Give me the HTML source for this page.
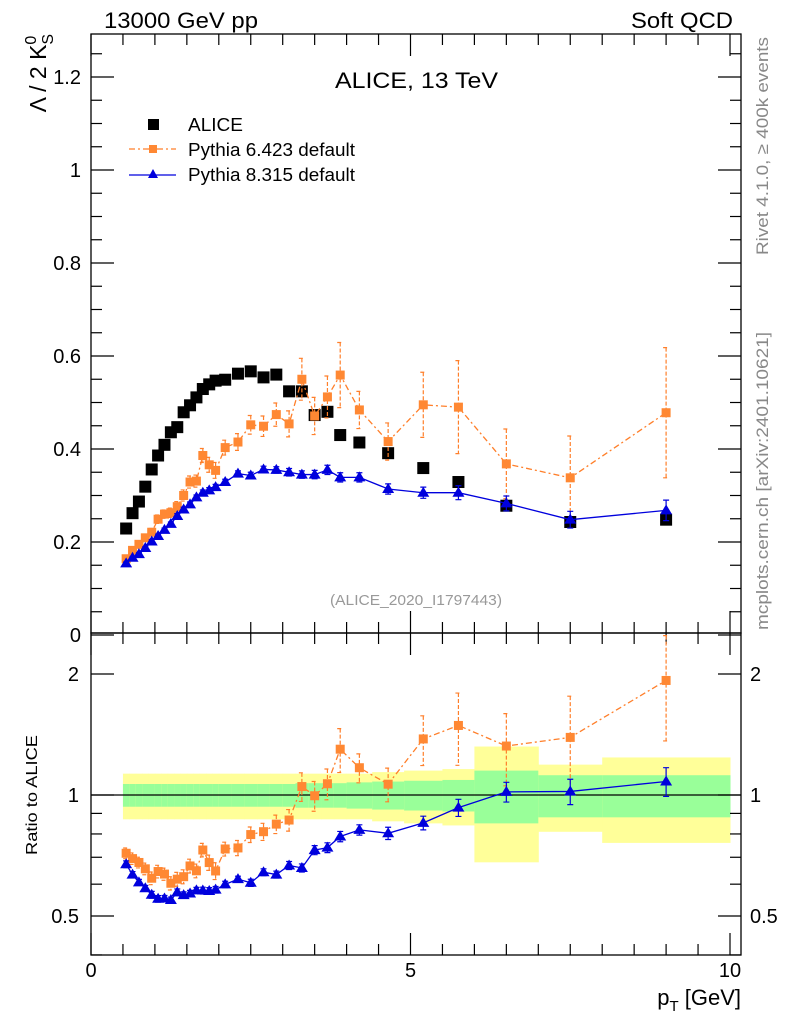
<!DOCTYPE html>
<html><head><meta charset="utf-8"><style>
body{margin:0;background:#fff}
svg{display:block;font-family:"Liberation Sans",sans-serif}
</style></head><body>
<svg id="c" width="786" height="1024" xmlns="http://www.w3.org/2000/svg"></svg>
<script>
const pT=[0.55,0.65,0.75,0.85,0.95,1.05,1.15,1.25,1.35,1.45,1.55,1.65,1.75,1.85,1.95,2.1,2.3,2.5,2.7,2.9,3.1,3.3,3.5,3.7,3.9,4.2,4.65,5.2,5.75,6.5,7.5,9.0];
const binEdges=[0.5,0.6,0.7,0.8,0.9,1.0,1.1,1.2,1.3,1.4,1.5,1.6,1.7,1.8,1.9,2.0,2.2,2.4,2.6,2.8,3.0,3.2,3.4,3.6,3.8,4.0,4.4,4.9,5.5,6.0,7.0,8.0,10.0];
const alice=[0.229,0.262,0.287,0.319,0.356,0.386,0.409,0.436,0.447,0.479,0.494,0.511,0.529,0.539,0.547,0.549,0.562,0.567,0.554,0.560,0.524,0.524,0.473,0.480,0.430,0.414,0.391,0.359,0.329,0.278,0.243,0.248];
const py6=[0.164,0.182,0.195,0.209,0.221,0.249,0.260,0.263,0.276,0.300,0.329,0.331,0.386,0.366,0.354,0.403,0.415,0.452,0.449,0.474,0.454,0.550,0.471,0.512,0.559,0.484,0.416,0.495,0.490,0.368,0.338,0.478];
const py6err=[0.005,0.006,0.006,0.007,0.008,0.009,0.009,0.010,0.011,0.012,0.013,0.013,0.015,0.016,0.017,0.016,0.018,0.020,0.022,0.025,0.028,0.045,0.040,0.045,0.070,0.040,0.040,0.070,0.100,0.075,0.090,0.140];
const py8=[0.154,0.166,0.174,0.187,0.201,0.213,0.226,0.239,0.256,0.270,0.281,0.296,0.306,0.311,0.318,0.329,0.347,0.343,0.356,0.355,0.350,0.345,0.345,0.355,0.339,0.339,0.314,0.306,0.306,0.283,0.248,0.268];
const py8err=[0.003,0.003,0.003,0.003,0.004,0.004,0.004,0.004,0.005,0.005,0.005,0.005,0.006,0.006,0.006,0.006,0.006,0.007,0.007,0.007,0.008,0.008,0.009,0.010,0.010,0.010,0.011,0.012,0.015,0.016,0.018,0.022];
const bandY=[0.13,0.13,0.13,0.13,0.13,0.13,0.13,0.13,0.13,0.13,0.13,0.13,0.13,0.13,0.13,0.13,0.13,0.13,0.13,0.13,0.13,0.13,0.13,0.13,0.13,0.13,0.14,0.15,0.16,0.32,0.19,0.24];
const bandG=[0.065,0.065,0.065,0.065,0.065,0.065,0.065,0.065,0.065,0.065,0.065,0.065,0.065,0.065,0.065,0.065,0.065,0.065,0.065,0.065,0.065,0.07,0.07,0.07,0.07,0.075,0.08,0.085,0.09,0.15,0.12,0.12];
const mainTicks=[0,0.2,0.4,0.6,0.8,1,1.2];
const ratioTicks=[0.5,1,2];
const xTicks=[0,5,10];

const S=document.getElementById('c'),NS='http://www.w3.org/2000/svg';
function el(t,a,p){const e=document.createElementNS(NS,t);for(const k in a)e.setAttribute(k,a[k]);(p||S).appendChild(e);return e;}
const L=91,R=741,T=34,MB=633,RB=955;
const X=v=>91+v*63.9;
const Y=v=>635-v*465;
const YR=r=>795-121*Math.log2(r);

// bands
const gb=el('g',{});
for(let i=0;i<pT.length;i++){
  const x0=X(binEdges[i]),x1=X(binEdges[i+1]);
  let r=el('rect',{x:x0,y:YR(1+bandY[i]),width:x1-x0+0.5,height:YR(1-bandY[i])-YR(1+bandY[i]),fill:'#ffff99'},gb);
  
  r=el('rect',{x:x0,y:YR(1+bandG[i]),width:x1-x0+0.5,height:YR(1-bandG[i])-YR(1+bandG[i]),fill:'#99ff99'},gb);
  
}
let ln=el('line',{x1:L,x2:R,y1:YR(1),y2:YR(1),stroke:'#000','stroke-width':1.3});


// frames
let f=el('rect',{x:L,y:T,width:R-L,height:MB-T,fill:'none',stroke:'#000','stroke-width':1.3});

f=el('rect',{x:L,y:MB,width:R-L,height:RB-MB,fill:'none',stroke:'#000','stroke-width':1.3});


// ticks
const tk=el('g',{stroke:'#000','stroke-width':1.2});
for(let v=0;v<=1.29;v+=0.05){const y=Y(v);if(y<T)break;const major=Math.abs(v*5-Math.round(v*5))<1e-6;const l=major?23:11;
 el('line',{x1:L,x2:L+l,y1:y,y2:y},tk);el('line',{x1:R,x2:R-l,y1:y,y2:y},tk);}
for(let v=0;v<=10.1;v+=0.5){const x=X(v);if(x>R)break;const major=Math.abs(v%5)<1e-6;const l=major?22:11;
 el('line',{x1:x,x2:x,y1:T,y2:T+l},tk);el('line',{x1:x,x2:x,y1:MB,y2:MB-l},tk);
 el('line',{x1:x,x2:x,y1:MB,y2:MB+l},tk);el('line',{x1:x,x2:x,y1:RB,y2:RB-l},tk);}
[0.4,0.5,0.6,0.7,0.8,0.9,1,2].forEach(r=>{const y=YR(r);const l=(r==0.5||r==1||r==2)?23:11;
 el('line',{x1:L,x2:L+l,y1:y,y2:y},tk);el('line',{x1:R,x2:R-l,y1:y,y2:y},tk);});

function txt(s,a,name){const t=el('text',a);t.textContent=s;return t;}
mainTicks.forEach(v=>txt(String(v),{x:81,y:Y(v)+7,'font-size':20,'text-anchor':'end'},'y-tick-label'));
ratioTicks.forEach(v=>{txt(String(v),{x:79,y:YR(v)+7,'font-size':20,'text-anchor':'end'},'ratio-y-tick-label');
 txt(String(v),{x:750,y:YR(v)+7,'font-size':20},'ratio-y-tick-label-right');});
xTicks.forEach(v=>txt(String(v),{x:X(v),y:977,'font-size':20,'text-anchor':'middle'},'x-tick-label'));

const LA='spacingAndGlyphs';
txt('13000 GeV pp',{x:104,y:28,'font-size':22,textLength:154,lengthAdjust:LA},'energy-label');
txt('Soft QCD',{x:631,y:28,'font-size':22,textLength:102,lengthAdjust:LA},'process-label');
txt('ALICE, 13 TeV',{x:335,y:88,'font-size':22,textLength:163,lengthAdjust:LA},'plot-title');
txt('(ALICE_2020_I1797443)',{x:330,y:605,'font-size':15,fill:'#999',textLength:172,lengthAdjust:LA},'analysis-id');
txt('Rivet 4.1.0, \u2265 400k events',{x:0,y:0,'font-size':17,fill:'#888','text-anchor':'middle',textLength:218,lengthAdjust:LA,transform:'translate(768,146) rotate(-90)'},'rivet-label');
txt('mcplots.cern.ch [arXiv:2401.10621]',{x:0,y:0,'font-size':17,fill:'#888','text-anchor':'middle',textLength:298,lengthAdjust:LA,transform:'translate(768,481) rotate(-90)'},'mcplots-label');
const yl=txt('',{x:0,y:0,'font-size':23,'text-anchor':'end',transform:'translate(46,34) rotate(-90)'},'y-axis-title');
yl.innerHTML='Λ / 2 K<tspan dy="-10" font-size="16">0</tspan><tspan dx="-9" dy="17" font-size="16">S</tspan>';
txt('Ratio to ALICE',{x:0,y:0,'font-size':16,'text-anchor':'middle',textLength:120,lengthAdjust:LA,transform:'translate(37,795) rotate(-90)'},'ratio-axis-title');
const xl=txt('',{x:741,y:1005,'font-size':22,'text-anchor':'end'},'x-axis-title');
xl.innerHTML='p<tspan dy="6" font-size="15">T</tspan><tspan dy="-6"> [GeV]</tspan>';

// legend
const lg=el('g',{});
el('rect',{x:148,y:119,width:11,height:11,fill:'#000'},lg);
txt('ALICE',{x:188,y:131,'font-size':18,textLength:55,lengthAdjust:LA},'legend-alice');
el('line',{x1:129,x2:176,y1:149,y2:149,stroke:'#ff7f2a','stroke-width':1.2,'stroke-dasharray':'6,3,2,3'},lg);
el('rect',{x:149,y:145,width:8,height:8,fill:'#f83'},lg);
txt('Pythia 6.423 default',{x:188,y:156,'font-size':18,textLength:167,lengthAdjust:LA},'legend-pythia6');
el('line',{x1:129,x2:176,y1:175,y2:175,stroke:'#00d','stroke-width':1.3},lg);
el('polygon',{points:'153,169 158,178 148,178',fill:'#00d'},lg);
txt('Pythia 8.315 default',{x:188,y:181,'font-size':18,textLength:167,lengthAdjust:LA},'legend-pythia8');

// series
function series(vals,errs,color,dash,marker,name,yf,ratio){
  const g=el('g',{});
  const pts=vals.map((v,i)=>[X(pT[i]),yf(ratio?v/alice[i]:v)]);
  if(color){const pl=el('polyline',{points:pts.map(p=>p.join(',')).join(' '),fill:'none',stroke:color,'stroke-width':1.3},g);
    if(dash)pl.setAttribute('stroke-dasharray',dash);
    }
  vals.forEach((v,i)=>{const x=pts[i][0],y=pts[i][1];
    if(errs){const lo=ratio?(v-errs[i])/alice[i]:v-errs[i],hi=ratio?(v+errs[i])/alice[i]:v+errs[i];
      const y1=Math.max(yf(hi),T),y2=yf(lo);
      const e=el('path',{d:`M${x},${y1}V${y2}M${x-3},${y1}H${x+3}M${x-3},${y2}H${x+3}`,stroke:color,'stroke-width':1.2,fill:'none'},g);
      if(dash)e.setAttribute('stroke-dasharray','4,2');
      }
    let m;
    if(marker=='sq')m=el('rect',{x:x-6,y:y-6,width:12,height:12,fill:'#000'},g);
    else if(marker=='osq')m=el('rect',{x:x-4.5,y:y-4.5,width:9,height:9,fill:'#f83'},g);
    else m=el('polygon',{points:`${x},${y-6} ${x+6},${y+4} ${x-6},${y+4}`,fill:'#00d'},g);
    
  });
}
series(alice,null,null,null,'sq','alice-data',Y,false);
series(py6,py6err,'#ff7f2a','6,3,2,3','osq','pythia6',Y,false);
series(py8,py8err,'#0000dd',null,'tri','pythia8',Y,false);
series(py6,py6err,'#ff7f2a','6,3,2,3','osq','pythia6-ratio',YR,true);
series(py8,py8err,'#0000dd',null,'tri','pythia8-ratio',YR,true);
</script>
</body></html>
